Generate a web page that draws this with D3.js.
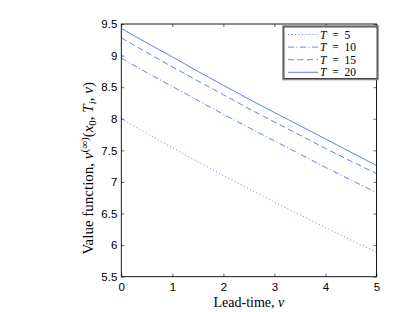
<!DOCTYPE html>
<html><head><meta charset="utf-8">
<script src="https://cdn.jsdelivr.net/npm/d3@7"></script>
<style>body{margin:0;background:#fff}svg{display:block}</style>
</head><body>
<script>
const leadTimes = [0, 0.5, 1, 1.5, 2, 2.5, 3, 3.5, 4, 4.5, 5];
const seriesNames = ["5", "10", "15", "20"];
const valuesT5  = [8.00, 7.77, 7.54, 7.32, 7.10, 6.89, 6.68, 6.48, 6.28, 6.08, 5.89];
const valuesT10 = [8.96, 8.73, 8.51, 8.29, 8.07, 7.86, 7.65, 7.44, 7.23, 7.03, 6.83];
const valuesT15 = [9.28, 9.05, 8.82, 8.60, 8.38, 8.16, 7.95, 7.74, 7.53, 7.33, 7.13];
const valuesT20 = [9.43, 9.20, 8.98, 8.75, 8.53, 8.31, 8.10, 7.89, 7.68, 7.47, 7.26];
const xTicks = [0, 1, 2, 3, 4, 5];
const yTicks = [5.5, 6, 6.5, 7, 7.5, 8, 8.5, 9, 9.5];

const series = [valuesT5, valuesT10, valuesT15, valuesT20];
const dashes = ["1,2.5", "6,2.5,1,2.5", "6,3.5", null];
const color = "#3a5cff";

const W = 415, H = 312;
const L = 121.3, R = 376.5, T = 24, B = 276.7;
const svg = d3.select("body").append("svg").attr("width", W).attr("height", H);
const x = d3.scaleLinear().domain([0, 5]).range([L, R]);
const y = d3.scaleLinear().domain([5.5, 9.5]).range([B, T]);

svg.append("rect").attr("x", L).attr("y", T).attr("width", R - L).attr("height", B - T).attr("fill", "#fff");

const line = d3.line().x((d, i) => x(leadTimes[i])).y(d => y(d));
series.forEach((s, k) => {
  svg.append("path").datum(s).attr("d", line).attr("fill", "none")
    .attr("stroke", color).attr("stroke-width", 0.8)
    .attr("stroke-dasharray", dashes[k]);
});

const tickFont = "Liberation Sans, Arial, sans-serif";
const tl = 3;
const gx = svg.append("g").attr("transform", `translate(0,${B})`)
  .call(d3.axisBottom(x).tickValues(xTicks).tickFormat(d3.format("d")).tickSizeInner(-tl).tickSizeOuter(0).tickPadding(6));
const gxt = svg.append("g").attr("transform", `translate(0,${T})`)
  .call(d3.axisTop(x).tickValues(xTicks).tickFormat("").tickSizeInner(-tl).tickSizeOuter(0));
const gy = svg.append("g").attr("transform", `translate(${L},0)`)
  .call(d3.axisLeft(y).tickValues(yTicks).tickFormat(d => d3.format("")(d)).tickSizeInner(-tl).tickSizeOuter(0).tickPadding(4));
const gyr = svg.append("g").attr("transform", `translate(${R},0)`)
  .call(d3.axisRight(y).tickValues(yTicks).tickFormat("").tickSizeInner(-tl).tickSizeOuter(0));
[gx, gxt, gy, gyr].forEach(g => {
  g.select(".domain").remove();
  g.selectAll("line").attr("stroke", "#000").attr("stroke-width", 0.6);
  g.selectAll("text").attr("font-family", tickFont).attr("font-size", 11.5).attr("fill", "#000");
});
gy.selectAll("text").attr("dy", "0.32em");

svg.append("rect").attr("x", L).attr("y", T).attr("width", R - L).attr("height", B - T)
  .attr("fill", "none").attr("stroke", "#000").attr("stroke-width", 0.9);

// legend
const lg = svg.append("g");
const lx = 283, ly = 26, lw = 95, lh = 53.5;
lg.append("rect").attr("x", lx).attr("y", ly).attr("width", lw).attr("height", lh)
  .attr("fill", "#fff").attr("stroke", "#888").attr("stroke-width", 1.6);
lg.append("rect").attr("x", lx + 1).attr("y", ly + 1).attr("width", lw - 2).attr("height", lh - 2)
  .attr("fill", "none").attr("stroke", "#000").attr("stroke-width", 0.7);
const serif = "Liberation Serif, Times New Roman, serif";
seriesNames.forEach((n, k) => {
  const yy = ly + 8.5 + k * 12.6;
  lg.append("line").attr("x1", lx + 5).attr("x2", lx + 35).attr("y1", yy).attr("y2", yy)
    .attr("stroke", color).attr("stroke-width", 0.8).attr("stroke-dasharray", dashes[k]);
  const t = lg.append("text").attr("x", lx + 37).attr("y", yy + 4)
    .attr("font-family", serif).attr("font-size", 11.5).attr("fill", "#000");
  t.append("tspan").attr("font-style", "italic").text("T");
  t.append("tspan").text("\u2002=\u2002" + n);
});

// axis labels
svg.append("text").attr("x", (L + R) / 2).attr("y", 307).attr("text-anchor", "middle")
  .attr("font-family", serif).attr("font-size", 14).attr("fill", "#000")
  .call(t => { t.append("tspan").text("Lead-time, "); t.append("tspan").attr("font-style", "italic").text("ν"); });

const yl = svg.append("text").attr("transform", `translate(93,${(T + B) / 2 + 18}) rotate(-90)`)
  .attr("text-anchor", "middle").attr("font-family", serif).attr("font-size", 15).attr("fill", "#000");
yl.append("tspan").text("Value function, ");
yl.append("tspan").attr("font-style", "italic").text("v");
yl.append("tspan").attr("font-size", 11).attr("dy", -5).text("(∞)");
yl.append("tspan").attr("dy", 5).text("(");
yl.append("tspan").attr("font-style", "italic").text("x");
yl.append("tspan").attr("font-size", 11).attr("dy", 3).text("0");
yl.append("tspan").attr("dy", -3).text(", ");
yl.append("tspan").attr("font-style", "italic").text("T");
yl.append("tspan").attr("font-size", 11).attr("font-style", "italic").attr("dy", 3).text("i");
yl.append("tspan").attr("dy", -3).text(", ");
yl.append("tspan").attr("font-style", "italic").text("ν");
yl.append("tspan").text(")");
</script>
</body></html>
